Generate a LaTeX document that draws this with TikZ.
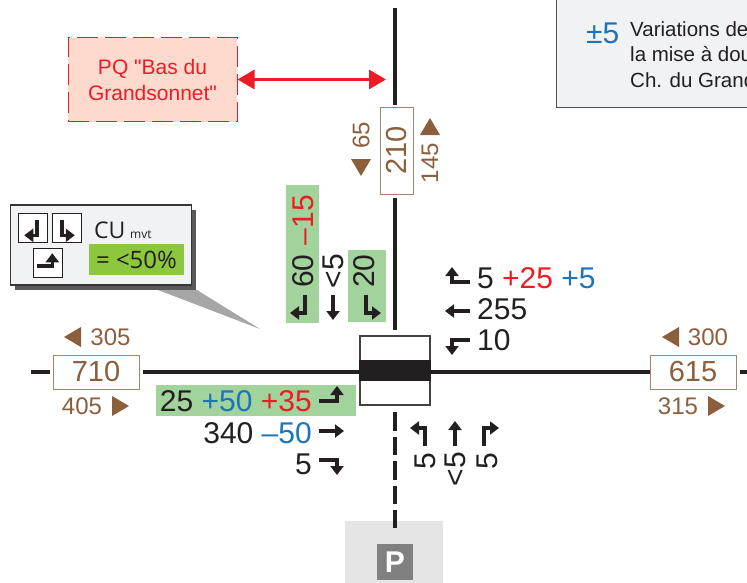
\documentclass[tikz,border=0pt]{standalone}
\usepackage{fontspec}
\setmainfont{Liberation Sans}
\newfontfamily\legendfont{Open Sans}
\usetikzlibrary{arrows.meta}

\definecolor{roadblack}{HTML}{231F20}
\definecolor{countbrown}{HTML}{8B5E3C}
\definecolor{boxbrown}{HTML}{A9826A}
\definecolor{plusred}{HTML}{ED1C24}
\definecolor{varblue}{HTML}{1C75BC}
\definecolor{mvtgreen}{HTML}{A3D39C}
\definecolor{cugreen}{HTML}{8DC63F}
\definecolor{panelgrey}{HTML}{F1F2F4}
\definecolor{pqpink}{HTML}{FDDACD}

\tikzset{
  road/.style={line width=3.2pt,roadblack},
  mvtline/.style={line width=3.4pt,roadblack,-{Triangle[length=9pt,width=13pt]}},
  num/.style={font=\fontsize{30}{32}\selectfont,inner sep=0pt,roadblack},
  small/.style={font=\fontsize{24}{26}\selectfont,inner sep=0pt,countbrown},
  countbox/.style={draw=boxbrown,line width=1pt,fill=white,inner sep=0pt,minimum width=86pt,minimum height=34pt,
    font=\fontsize{29}{31}\selectfont,text=countbrown},
  mvtleft/.pic={\draw[mvtline] (0,0) -- (0,-18) -- (-15,-18);},
  mvtright/.pic={\draw[mvtline] (0,0) -- (0,-18) -- (15,-18);},
  mvtstraight/.pic={\draw[mvtline] (0,0) -- (0,-25);},
  counttip/.pic={\fill[countbrown] (-10,8) -- (10,8) -- (0,-9) -- cycle;},
  iconbox/.style={draw=roadblack,line width=.8pt,fill=white,minimum size=29pt,inner sep=0pt}
}

\begin{document}
\begin{tikzpicture}[x=1pt,y=-1pt]
  % \draw[help lines,step=50] (0,0) grid (747,582);
  \useasboundingbox (0,0) rectangle (747,582);
  \clip (0,0) rectangle (747,582);

  % green backgrounds
  \fill[mvtgreen] (286,185) rectangle (319,323);
  \fill[mvtgreen] (348,250) rectangle (386,322);
  \fill[mvtgreen] (156,385) rectangle (356,416);

  % roads
  \draw (395,8) coordinate (northend);
  \draw (31,372) coordinate (westend);
  \draw (747,372) coordinate (eastend);
  \draw (395,412) coordinate (dashstart);
  \draw (395,528) coordinate (dashend);
  \draw (396.5,150.5) node[countbox,minimum width=87pt,minimum height=33pt,rotate=90] (countnorth) {210};
  \draw (96,372) node[countbox] (countwest) {710};
  \draw (693,372) node[countbox] (counteast) {615};
  \draw (395,370.5) node[draw=roadblack!85,line width=2.6pt,fill=white,minimum width=70pt,minimum height=69pt,inner sep=0pt] (crossing) {};
  \draw (395,370.5) node[fill=roadblack,minimum width=72pt,minimum height=21pt,inner sep=0pt] (band) {};

  \draw[road,shorten >=2pt] (northend) -- (northend|-countnorth.east);
  \draw[road,shorten <=3pt,shorten >=5pt] (northend|-countnorth.west) -- (northend|-crossing.north);
  \draw[road,shorten >=3pt] (westend) -- (countwest.west);
  \draw[road,shorten <=3pt] (countwest.east) -- (band.west|-westend);
  \draw[road] (band.east|-eastend) -- (counteast.west);
  \draw[road,shorten <=3pt] (counteast.east) -- (eastend);

  % parking
  \draw (394,556) node[fill=black!10,minimum width=98pt,minimum height=70pt,inner sep=0pt] (parking) {};
  \draw (395,562) node[fill=black!50,minimum size=36pt,inner sep=0pt,text=white,font=\fontsize{30}{30}\selectfont\bfseries] (psign) {P};
  \draw[road,dash pattern=on 18.5pt off 6pt] (dashstart) -- (dashend);

  % PQ
  \draw (152.5,79.5) node[draw=plusred,dash pattern=on 21pt off 7pt,line width=1pt,fill=pqpink,minimum width=169pt,minimum height=84pt,inner sep=0pt,
    align=center,text=plusred,font=\fontsize{21}{26}\selectfont] (pq) {PQ \textquotedbl Bas du\\Grandsonnet\textquotedbl};
  \draw (386,79.5) coordinate (pqend);
  \draw[line width=3pt,plusred,{Triangle[length=17pt,width=19pt]}-{Triangle[length=17pt,width=19pt]}] (pq.east) -- (pqend);

  % note
  \draw[draw=roadblack!80,line width=1pt,fill=panelgrey] (556,-5) rectangle (760,107);
  \draw (586,33) node[anchor=west,num,text=varblue] (noteplus) {±5};
  \draw (630,54.5) node[anchor=west,inner sep=0pt,align=left,font=\fontsize{20.5}{25.5}\selectfont,text=roadblack] (notetext) {Variations de\\la mise à dou\\Ch. du Grand};

  % legend
  \fill[black!65] (15,210) rectangle (196,290);
  \fill[black!35] (158,290) -- (260,329) -- (197,290) -- cycle;
  \draw (101,245) node[draw=roadblack!90,line width=1.2pt,fill=panelgrey,minimum width=181pt,minimum height=80pt,inner sep=0pt] (legend) {};
  \draw (32.5,228) node[iconbox] (iconone) {};
  \draw (67,228) node[iconbox] (icontwo) {};
  \draw (48,262.5) node[iconbox] (iconthree) {};
  \draw (37,220) pic[rotate=180,scale=.85] {mvtright};
  \draw (62,220) pic[rotate=180,scale=.85] {mvtleft};
  \draw (37,266) pic[rotate=-90,scale=.85] {mvtleft};
  \draw (94,238) node[anchor=base west,inner sep=0pt,font=\legendfont\fontsize{23}{25}\selectfont,text=roadblack] (cutext) {CU};
  \draw (130,238) node[anchor=base west,inner sep=0pt,font=\legendfont\fontsize{12}{13}\selectfont,text=roadblack] (mvttext) {mvt};
  \draw (136.5,259.5) node[fill=cugreen,minimum width=95pt,minimum height=31pt,inner sep=0pt,font=\legendfont\fontsize{24}{26}\selectfont,text=roadblack] (cuvalue) {= <50\%};

  % north
  \draw (303,271) node[num,rotate=90] (nleft) {60};
  \draw (303,220) node[num,rotate=90,text=plusred] (nleftvar) {–15};
  \draw (333,271) node[num,rotate=90] (nstraight) {<5};
  \draw (364,271) node[num,rotate=90] (nright) {20};
  \draw (305,295) pic[rotate=180] {mvtright};
  \draw (333,295) pic[rotate=180] {mvtstraight};
  \draw (366,295) pic[rotate=180] {mvtleft};

  % east
  \draw (477,278) node[num,anchor=west] (eright) {5 \textcolor{plusred}{+25} \textcolor{varblue}{+5}};
  \draw (477,309) node[num,anchor=west] (estraight) {255};
  \draw (477,340) node[num,anchor=west] (eleft) {10};
  \draw (470,282) pic[rotate=90] {mvtright};
  \draw (470,311) pic[rotate=90] {mvtstraight};
  \draw (470,340) pic[rotate=90] {mvtleft};

  % west
  \draw (312,401) node[num,anchor=east] (wleft) {25 \textcolor{varblue}{+50} \textcolor{plusred}{+35}};
  \draw (312,433) node[num,anchor=east] (wstraight) {340 \textcolor{varblue}{–50}};
  \draw (312,464) node[num,anchor=east] (wright) {5};
  \draw (319,401) pic[rotate=-90] {mvtleft};
  \draw (319,431) pic[rotate=-90] {mvtstraight};
  \draw (319,460) pic[rotate=-90] {mvtright};

  % south
  \draw (425,461) node[num,rotate=90] (sleft) {5};
  \draw (455,469) node[num,rotate=90] (sstraight) {<5};
  \draw (487,461) node[num,rotate=90] (sright) {5};
  \draw (425,446) pic {mvtleft};
  \draw (455,446) pic {mvtstraight};
  \draw (484,446) pic {mvtright};

  % counts
  \draw (361,135) node[small,rotate=90] (cnorthin) {65};
  \draw (361,167) pic[rotate=180] {counttip};
  \draw (430,163) node[small,rotate=90] (cnorthout) {145};
  \draw (430,127) pic {counttip};
  \draw (110.5,337) node[small] (cwestout) {305};
  \draw (73,337) pic[rotate=90] {counttip};
  \draw (82,406) node[small] (cwestin) {405};
  \draw (120,406) pic[rotate=-90] {counttip};
  \draw (708,337) node[small] (ceastin) {300};
  \draw (671,337) pic[rotate=90] {counttip};
  \draw (678,406) node[small] (ceastout) {315};
  \draw (716,406) pic[rotate=-90] {counttip};
\end{tikzpicture}
\end{document}
